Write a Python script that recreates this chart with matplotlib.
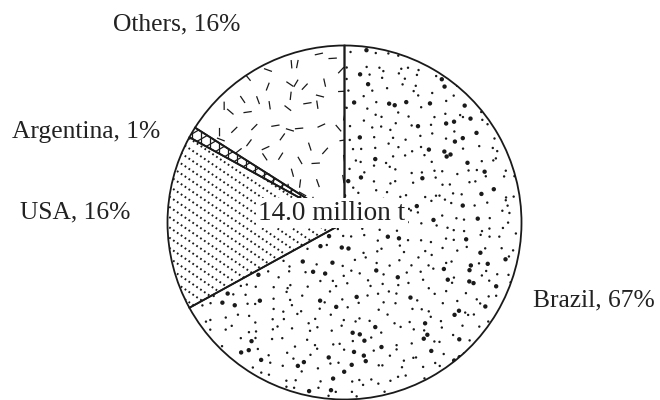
import numpy as np
import matplotlib
matplotlib.use("Agg")
import matplotlib.pyplot as plt
from matplotlib.collections import LineCollection

countries = ["Brazil", "USA", "Argentina", "Others"]
shares = [67, 16, 1, 16]
total_label = "14.0 million t"

plt.rcParams['font.family'] = ['Liberation Serif', 'DejaVu Serif']

fig = plt.figure(figsize=(6.6, 4.0), dpi=100)
ax = fig.add_axes([0, 0, 1, 1])

cx, cy, r = 344.5, 177.5, 177.0
wedges, _ = ax.pie(shares, startangle=90, counterclock=False, center=(cx, cy),
                   radius=r, frame=True,
                   wedgeprops=dict(facecolor='white', edgecolor='#1a1a1a', linewidth=1.3))
ax.set_xlim(0, 660)
ax.set_ylim(0, 400)
ax.set_aspect('equal')
ax.axis('off')

rng = np.random.default_rng(7)


def jitter_grid(step):
    g = np.arange(cx - r, cx + r, step)
    gx, gy = np.meshgrid(g, np.arange(cy - r, cy + r, step))
    gx = gx.ravel() + rng.uniform(-step * 0.45, step * 0.45, gx.size)
    gy = gy.ravel() + rng.uniform(-step * 0.45, step * 0.45, gy.size)
    return gx, gy


# Brazil: scattered dots
w = wedges[0]
px, py = jitter_grid(11.5)
sz = np.where(rng.random(px.size) < 0.2, 10, 3)
sc = ax.scatter(px, py, s=sz, c='#1a1a1a', linewidths=0, zorder=3)
sc.set_clip_path(w)

# USA: dotted diagonal lines
w = wedges[1]
d = np.array([np.cos(np.radians(-34)), np.sin(np.radians(-34))])
nrm = np.array([-d[1], d[0]])
segs = []
for k in np.arange(-60, 60):
    p0 = np.array([cx, cy]) + nrm * k * 8.5
    segs.append([p0 - d * 400, p0 + d * 400])
lc = LineCollection(segs, colors='#1a1a1a', linewidths=1.4, linestyles=(0, (0.9, 1.5)), zorder=3)
ax.add_collection(lc)
lc.set_clip_path(w)

# Argentina: cross hatch
w = wedges[2]
segs = []
for ang in (150 + 60, 150 - 60):
    d2 = np.array([np.cos(np.radians(ang)), np.sin(np.radians(ang))])
    n2 = np.array([-d2[1], d2[0]])
    for k in np.arange(-60, 60):
        p0 = np.array([cx, cy]) + n2 * k * 9
        segs.append([p0 - d2 * 400, p0 + d2 * 400])
lc = LineCollection(segs, colors='#1a1a1a', linewidths=0.9, zorder=3)
ax.add_collection(lc)
lc.set_clip_path(w)

# Others: short dashes at random angles
w = wedges[3]
px, py = jitter_grid(17)
th = rng.uniform(0, np.pi, px.size)
L = 4.2
segs = [[(x - L * np.cos(t), y - L * np.sin(t)), (x + L * np.cos(t), y + L * np.sin(t))]
        for x, y, t in zip(px, py, th)]
lc = LineCollection(segs, colors='#1a1a1a', linewidths=0.9, zorder=3)
ax.add_collection(lc)
lc.set_clip_path(w)

# wedge outlines on top
for wd in wedges:
    wd.set_zorder(4)
    wd.set_facecolor('none')

labels = [f"{c}, {s}%" for c, s in zip(countries, shares)]
pos = [(533, 100, 'left'), (130, 188, 'right'), (160, 268, 'right'), (240, 376, 'right')]
for lab, (x, y, ha) in zip(labels, pos):
    ax.text(x, y, lab, ha=ha, va='center', fontsize=18.4, color='#222222')

ax.text(332, 187, total_label, ha='center', va='center', fontsize=19.6, color='#222222',
        zorder=6, bbox=dict(facecolor='white', edgecolor='none', pad=1.5))

fig.savefig("out.png", dpi=100)
